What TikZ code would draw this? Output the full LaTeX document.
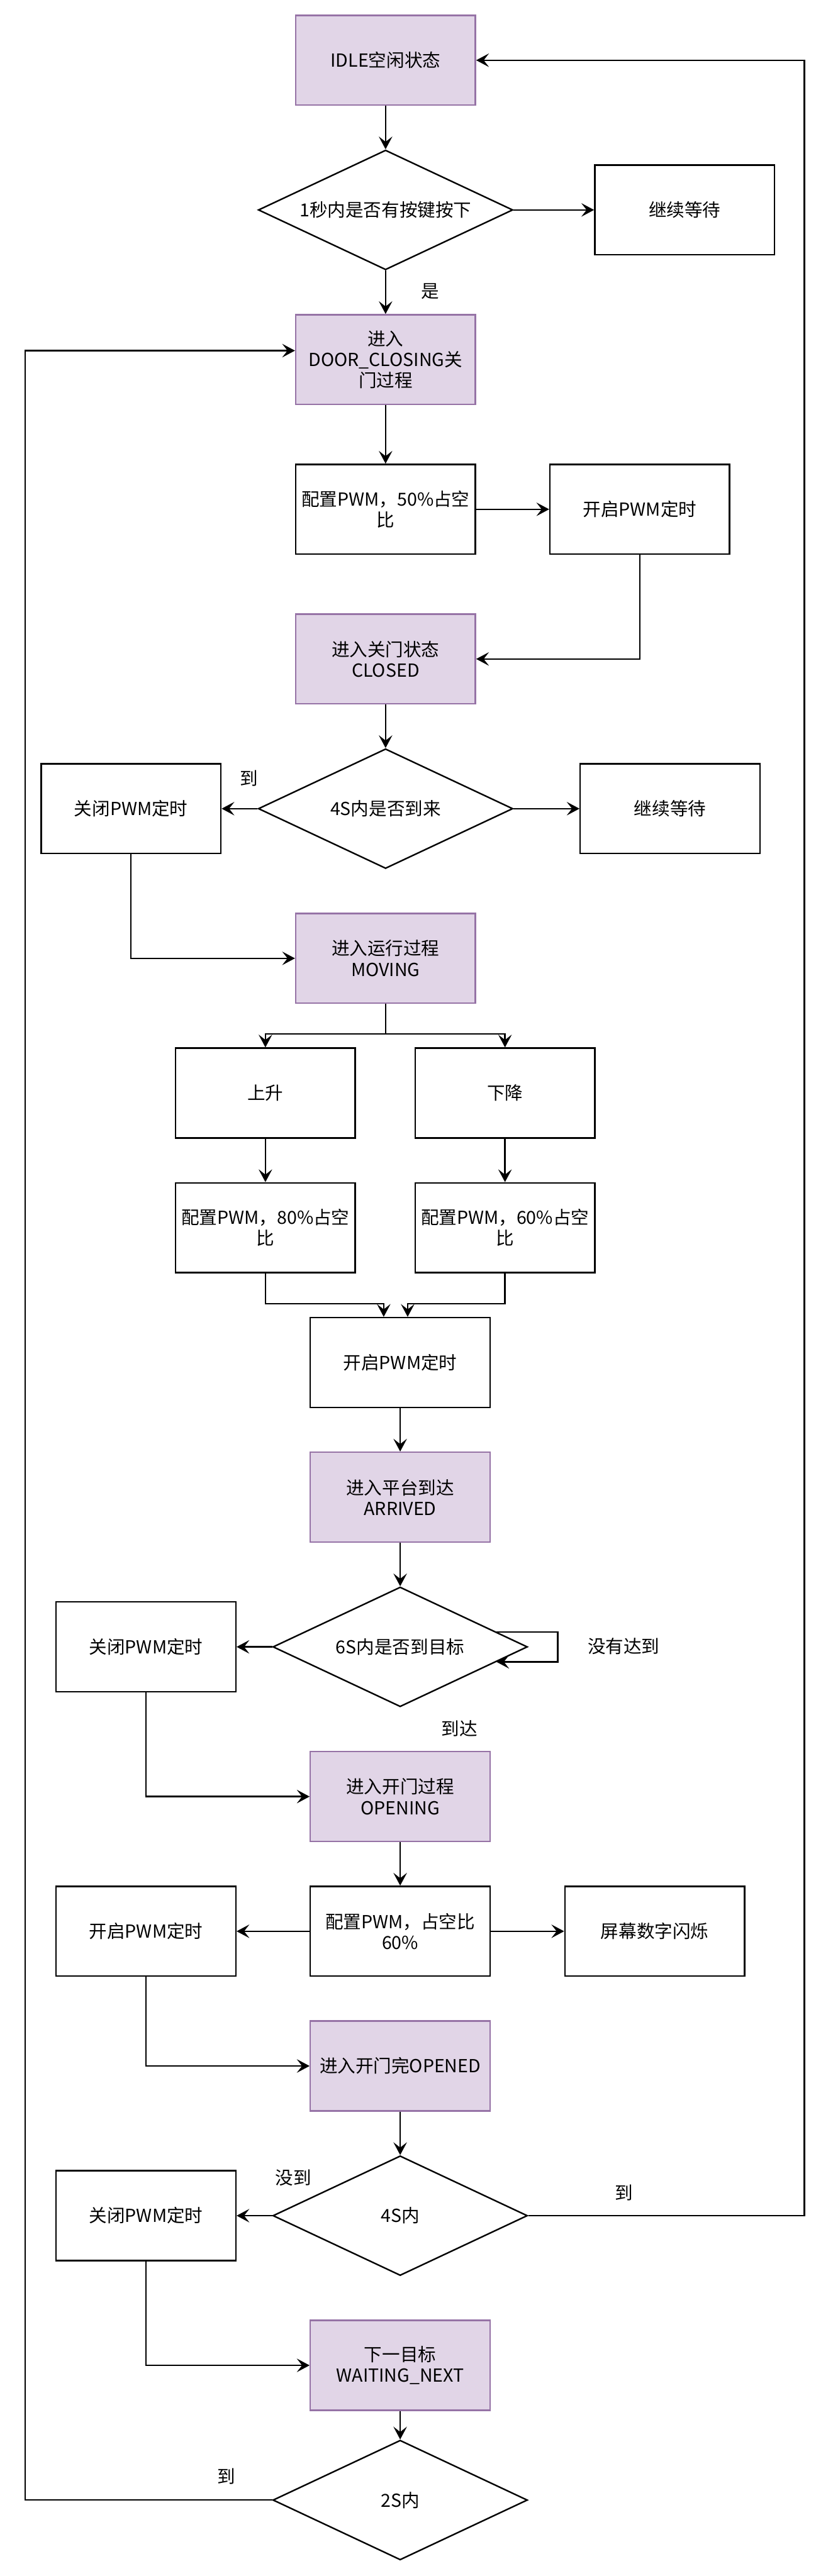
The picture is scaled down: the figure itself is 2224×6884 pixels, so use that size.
\documentclass[tikz,border=0pt]{standalone}
\usepackage{fontspec}
\setmainfont{Noto Sans CJK SC}
\usetikzlibrary{arrows.meta, shapes.geometric, calc}

\definecolor{statefill}{HTML}{E1D5E7}
\definecolor{stateline}{HTML}{9673A6}

\tikzset{
    basebox/.style={line width=2pt, minimum width=240pt, minimum height=120pt, inner sep=3pt, align=center, font=\fontsize{24}{28}\selectfont},
    statebox/.style={basebox, draw=stateline, fill=statefill},
    procbox/.style={basebox, draw=black, fill=white},
    decbox/.style={shape=diamond, draw=black, fill=white, line width=2pt, aspect=2.125, minimum width=340pt, minimum height=160pt, inner sep=0pt, font=\fontsize{24}{28}\selectfont},
    flow/.style={line width=2pt, arrows={-Stealth[length=17pt, width=18pt, inset=7pt]}},
    lbl/.style={font=\fontsize{24}{28}\selectfont}
}

\begin{document}
\begin{tikzpicture}[x=0.5pt, y=-0.5pt]
    \useasboundingbox (0,0) rectangle (2224,6884);

    % Closing part
    \node[statebox] (idle) at ({1030}, {161}) {IDLE空闲状态};
    \node[decbox] (dec1) at ({1030}, {561}) {1秒内是否有按键按下};
    \node[procbox] (wait1) at ({1829}, {561}) {继续等待};
    \node[statebox] (closing) at ({1030}, {961}) {进入\\DOOR\_CLOSING关\\门过程};
    \node[procbox] (pwm50) at ({1030}, {1361}) {配置PWM，50\%占空\\比};
    \node[procbox] (timer1) at ({1709}, {1361}) {开启PWM定时};
    \node[statebox] (closed) at ({1030}, {1761}) {进入关门状态\\CLOSED};
    \node[decbox] (dec2) at ({1030}, {2161}) {4S内是否到来};
    \node[procbox] (off1) at ({350}, {2161}) {关闭PWM定时};
    \node[procbox] (wait2) at ({1790}, {2161}) {继续等待};

    % Moving part
    \node[statebox] (moving) at ({1030}, {2561}) {进入运行过程\\MOVING};
    \node[procbox] (up) at ({709}, {2921}) {上升};
    \node[procbox] (down) at ({1349}, {2921}) {下降};
    \node[procbox] (pwm80) at ({709}, {3281}) {配置PWM，80\%占空\\比};
    \node[procbox] (pwm60) at ({1349}, {3281}) {配置PWM，60\%占空\\比};
    \node[procbox] (timer2) at ({1069}, {3641}) {开启PWM定时};
    \node[statebox] (arrived) at ({1069}, {4001}) {进入平台到达\\ARRIVED};
    \node[decbox] (dec3) at ({1069}, {4401}) {6S内是否到目标};
    \node[procbox] (off2) at ({390}, {4401}) {关闭PWM定时};

    % Opening part
    \node[statebox] (opening) at ({1069}, {4801}) {进入开门过程\\OPENING};
    \node[procbox] (pwmopen) at ({1069}, {5161}) {配置PWM，占空比\\60\%};
    \node[procbox] (timer3) at ({390}, {5161}) {开启PWM定时};
    \node[procbox] (blink) at ({1749}, {5161}) {屏幕数字闪烁};
    \node[statebox] (opened) at ({1069}, {5521}) {进入开门完OPENED};
    \node[decbox] (dec4) at ({1069}, {5921}) {4S内};
    \node[procbox] (off3) at ({390}, {5921}) {关闭PWM定时};
    \node[statebox] (waitnext) at ({1069}, {6321}) {下一目标\\WAITING\_NEXT};
    \node[decbox] (dec5) at ({1069}, {6681}) {2S内};

    % Labels
    \node[lbl] (yes1) at ({1149}, {779}) {是};
    \node[lbl] (come2) at ({666}, {2080}) {到};
    \node[lbl] (miss3) at ({1666}, {4400}) {没有达到};
    \node[lbl] (reach3) at ({1227}, {4620}) {到达};
    \node[lbl] (miss4) at ({784}, {5820}) {没到};
    \node[lbl] (come4) at ({1666}, {5859}) {到};
    \node[lbl] (come5) at ({605}, {6618}) {到};

    % Connectors
    \draw[flow] (idle) -- (dec1);
    \draw[flow] (dec1) -- (wait1);
    \draw[flow] (dec1) -- (closing);
    \draw[flow] (closing) -- (pwm50);
    \draw[flow] (pwm50) -- (timer1);
    \draw[flow] (timer1.south) |- (closed.east);
    \draw[flow] (closed) -- (dec2);
    \draw[flow] (dec2) -- (off1);
    \draw[flow] (dec2) -- (wait2);
    \draw[flow] (off1.south) |- (moving.west);
    \draw[flow] (moving.south) -- ++(0,80) -| (up.north);
    \draw[flow] (moving.south) -- ++(0,80) -| (down.north);
    \draw[flow] (up) -- (pwm80);
    \draw[flow] (down) -- (pwm60);
    \draw[flow] (pwm80.south) -- ++(0,81) -| ([xshift=-22pt]timer2.north);
    \draw[flow] (pwm60.south) -- ++(0,81) -| ([xshift=10pt]timer2.north);
    \draw[flow] (timer2) -- (arrived);
    \draw[flow] (arrived) -- (dec3);
    \draw[flow] (dec3) -- (off2);
    \coordinate (loopout) at ($(dec3.east)+(-85,-40)$);
    \coordinate (loopin) at ($(dec3.east)+(-85,40)$);
    \draw[flow] (loopout) -- ++(164,0) -- ++(0,80) -- (loopin);
    \draw[flow] (off2.south) |- (opening.west);
    \draw[flow] (opening) -- (pwmopen);
    \draw[flow] (pwmopen) -- (timer3);
    \draw[flow] (pwmopen) -- (blink);
    \draw[flow] (timer3.south) |- (opened.west);
    \draw[flow] (opened) -- (dec4);
    \draw[flow] (dec4) -- (off3);
    \draw[flow] (dec4.east) -- ++(738,0) |- (idle.east);
    \draw[flow] (off3.south) |- (waitnext.west);
    \draw[flow] (waitnext) -- (dec5);
    \draw[flow] (dec5.west) -- ++(-660,0) |- ([yshift=12pt]closing.west);
\end{tikzpicture}
\end{document}
